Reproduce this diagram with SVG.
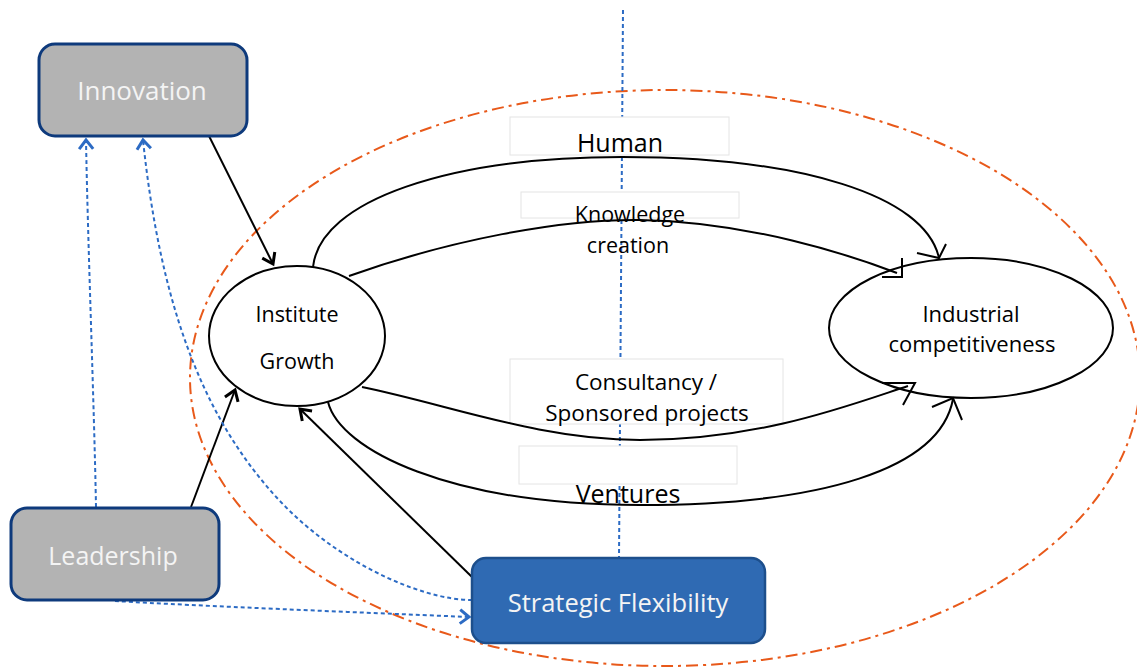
<svg xmlns="http://www.w3.org/2000/svg" width="1137" height="669" viewBox="0 0 1137 669">
<style>
.box{fill:#b3b3b3;stroke:#0e3a7c;stroke-width:3}
.sf{fill:#2f6ab3;stroke:#1d4f8c;stroke-width:2.5}
.ell{fill:#fff;stroke:#000;stroke-width:2}
.lbl{fill:#fff;stroke:#e4e4e4;stroke-width:1}
.ln{fill:none;stroke:#000;stroke-width:2}
.bd{fill:none;stroke:#2c6bc4;stroke-width:2;stroke-dasharray:4 3}
.t{font-family:"Open Sans","Liberation Sans",sans-serif;text-anchor:middle}
.wt{fill:#f4f4f4}
.bk{fill:#000}
</style>
<defs>
<marker id="ab" markerWidth="20" markerHeight="20" viewBox="-12 -10 14 20" refX="0" refY="0" orient="auto" markerUnits="userSpaceOnUse">
<path d="M-10,-7 L0,0 L-10,7" fill="none" stroke="#000" stroke-width="3"/>
</marker>
<marker id="abl" markerWidth="20" markerHeight="20" viewBox="-12 -10 14 20" refX="0" refY="0" orient="auto" markerUnits="userSpaceOnUse">
<path d="M-9,-7 L0,0 L-9,7" fill="none" stroke="#2c6bc4" stroke-width="3"/>
</marker>
</defs>
<rect width="1137" height="669" fill="#fff"/>

<g id="boundary">
<ellipse cx="665" cy="378" rx="475" ry="288" fill="none" stroke="#e8591a" stroke-width="2" stroke-dasharray="12 5 3 5"/>
</g>

<g id="divider">
<line x1="623" y1="10" x2="619" y2="558" class="bd" stroke-width="1.6" stroke-dasharray="4 3"/>
</g>

<g id="label-boxes">
<rect class="lbl" x="510" y="117" width="219" height="38"/>
<rect class="lbl" x="521" y="192" width="218" height="26"/>
<rect class="lbl" x="510" y="359" width="273" height="65"/>
<rect class="lbl" x="519" y="446" width="218" height="38"/>
</g>

<g id="industrial-competitiveness">
<ellipse class="ell" cx="971" cy="328" rx="142" ry="70"/>
<text class="t bk" x="971" y="322" font-size="22">Industrial</text>
<text class="t bk" x="972" y="352" font-size="22">competitiveness</text>
</g>

<g id="connectors">
<path class="ln" d="M313,267 C320,200 450,157 622,157 C800,157 925,195 939,258"/>
<path class="ln" d="M917,253 L939,258 L946,244"/>
<path class="ln" d="M349,276 C450,240 560,219 640,220 C750,222 850,255 897,273"/>
<path class="ln" d="M882,277 L902,277 L902,258"/>
<path class="ln" d="M362,387 C450,405 540,440 640,440 C760,440 850,405 908,386"/>
<path class="ln" d="M882,383 L915,383 L903,405"/>
<path class="ln" d="M328,402 C340,450 450,505 640,505 C820,505 940,470 953,399"/>
<path class="ln" d="M932,407 L953,398 L962,420"/>
<path class="ln" d="M209,136 L273,264" marker-end="url(#ab)"/>
<path class="ln" d="M191,507 L235,390" marker-end="url(#ab)"/>
<path class="ln" d="M472,577 L300,409" marker-end="url(#ab)"/>
<path class="bd" d="M96,507 C94,400 88,250 86,140" marker-end="url(#abl)"/>
<path class="bd" d="M472,600 C420,600 330,560 270,490 C200,410 160,300 143,140" marker-end="url(#abl)"/>
<path class="bd" d="M115,601 C200,606 350,612 469,617" marker-end="url(#abl)"/>
</g>

<g id="innovation">
<rect class="box" x="39" y="44" width="208" height="92" rx="16"/>
<text class="t wt" x="142" y="100" font-size="26">Innovation</text>
</g>

<g id="leadership">
<rect class="box" x="11" y="508" width="208" height="92" rx="16"/>
<text class="t wt" x="113" y="565" font-size="25">Leadership</text>
</g>

<g id="strategic-flexibility">
<rect class="sf" x="472" y="558" width="293" height="85" rx="14"/>
<text class="t wt" x="618" y="612" font-size="25.5">Strategic Flexibility</text>
</g>

<g id="institute-growth">
<ellipse class="ell" cx="297" cy="336" rx="88" ry="70"/>
<text class="t bk" x="297" y="322" font-size="21.5">Institute</text>
<text class="t bk" x="297" y="369" font-size="21.5">Growth</text>
</g>

<g id="labels">
<text class="t bk" x="620" y="152" font-size="25">Human</text>
<text class="t bk" x="630" y="222" font-size="21.5">Knowledge</text>
<text class="t bk" x="628" y="253" font-size="21.5">creation</text>
<text class="t bk" x="646" y="390" font-size="22.5">Consultancy /</text>
<text class="t bk" x="647" y="421" font-size="22.5">Sponsored projects</text>
<text class="t bk" x="628" y="503" font-size="25">Ventures</text>
</g>
</svg>
